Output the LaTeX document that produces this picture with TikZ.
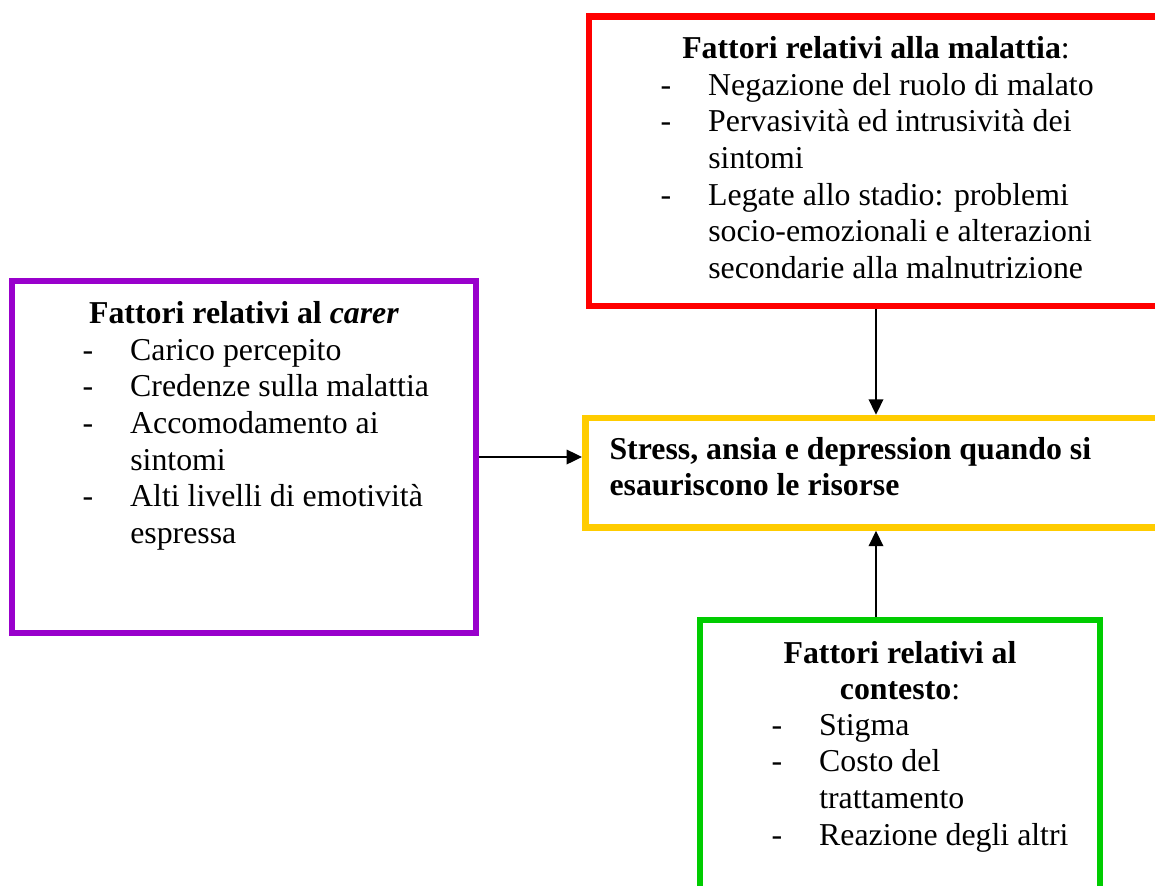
\documentclass[tikz,border=0pt]{standalone}
\usepackage{fontspec}
\setmainfont{Liberation Serif}
\usetikzlibrary{arrows.meta}
\definecolor{rosso}{RGB}{255,0,0}
\definecolor{viola}{RGB}{153,0,204}
\definecolor{giallo}{RGB}{255,204,0}
\definecolor{verde}{RGB}{0,204,0}

\begin{document}
\begin{tikzpicture}[x=0.377pt,y=-0.377pt,
    font=\fontsize{12pt}{13.84pt}\selectfont,
    box/.style={rectangle,draw,line width=2.45pt,inner sep=0},
    testo/.style={inner sep=0},
    freccia/.style={line width=0.6pt,-{Triangle[length=5.8pt,width=5.5pt]}}]
    \useasboundingbox (0,0) rectangle (1155,885);

    \draw
    (876,161.2)node[box,draw=rosso,minimum width=216.4pt,minimum height=109.2pt](malattia){}
    (244,457)node[box,draw=viola,minimum width=174.9pt,minimum height=132.7pt](carer){}
    (876,472.75)node[box,draw=giallo,minimum width=219.2pt,minimum height=41.3pt](stress){}
    (900,762.5)node[box,draw=verde,minimum width=150.8pt,minimum height=107.4pt](contesto){}

    (876,58)node[testo,anchor=base](malattiatit){\textbf{Fattori relativi alla malattia}:}
    (660,95)node[testo,anchor=base west](malattialst){\begin{tabular}[t]{@{}p{18pt}@{}l@{}}
        - & Negazione del ruolo di malato\\
        - & Pervasività ed intrusività dei\\
          & sintomi\\
        - & Legate allo stadio: problemi\\
          & socio-emozionali e alterazioni\\
          & secondarie alla malnutrizione
    \end{tabular}}

    (244,323)node[testo,anchor=base](carertit){\textbf{Fattori relativi al \textit{carer}}}
    (82,360)node[testo,anchor=base west](carerlst){\begin{tabular}[t]{@{}p{18pt}@{}l@{}}
        - & Carico percepito\\
        - & Credenze sulla malattia\\
        - & Accomodamento ai\\
          & sintomi\\
        - & Alti livelli di emotività\\
          & espressa
    \end{tabular}}

    (609,459)node[testo,anchor=base west](stresstxt){\begin{tabular}[t]{@{}l@{}}
        \textbf{Stress, ansia e depression quando si}\\
        \textbf{esauriscono le risorse}
    \end{tabular}}

    (900,663)node[testo,anchor=base](contestotit){\begin{tabular}[t]{@{}c@{}}
        \textbf{Fattori relativi al}\\
        \textbf{contesto}:
    \end{tabular}}
    (771,735)node[testo,anchor=base west](contestolst){\begin{tabular}[t]{@{}p{18pt}@{}l@{}}
        - & Stigma\\
        - & Costo del\\
          & trattamento\\
        - & Reazione degli altri
    \end{tabular}}
    ;

    \draw[freccia](malattia.south)--(stress.north);
    \draw[freccia](carer.east)--(carer.east -| stress.west);
    \draw[freccia](stress.south |- contesto.north)--(stress.south);

\end{tikzpicture}
\end{document}
